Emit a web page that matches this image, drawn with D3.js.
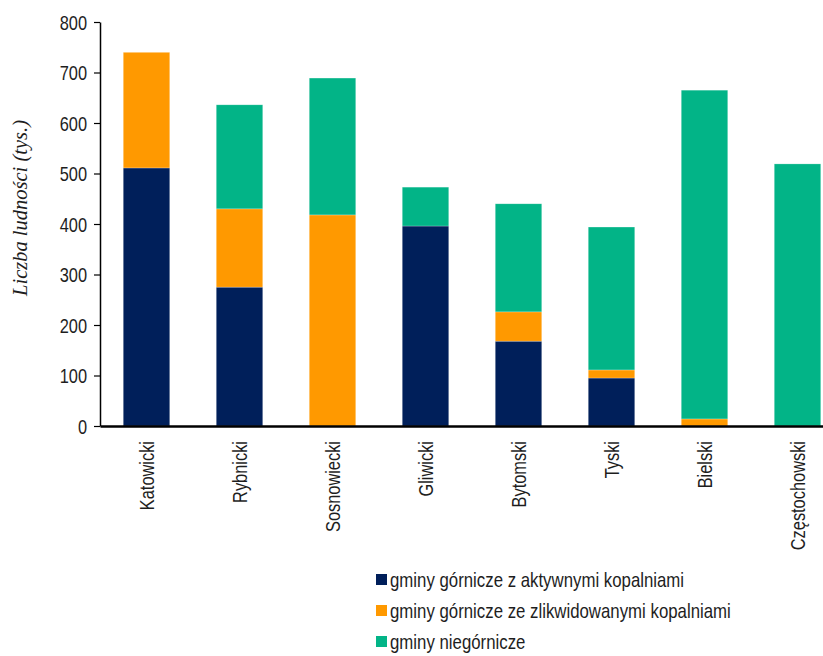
<!DOCTYPE html>
<html>
<head>
<meta charset="utf-8">
<script src="https://cdn.jsdelivr.net/npm/d3@7"></script>
<style>
  body { margin: 0; background: #fff; }
  text { fill: #1e1e1e; }
</style>
</head>
<body>
<div id="container"></div>
<script>

// subregions and population (thousands) by type of gmina
const regions = ['Katowicki', 'Rybnicki', 'Sosnowiecki', 'Gliwicki', 'Bytomski', 'Tyski', 'Bielski', 'Częstochowski'];
const active     = [511, 275,   0, 396, 168,  95,   0,   0];
const liquidated = [229, 155, 418,   0,  58,  16,  14,   0];
const nonMining  = [  0, 206, 271,  77, 214, 283, 651, 519];

const seriesKeys   = ['active', 'liquidated', 'nonMining'];
const seriesLabels = ['gminy górnicze z aktywnymi kopalniami', 'gminy górnicze ze zlikwidowanymi kopalniami', 'gminy niegórnicze'];
const seriesColors = ['#001f5a', '#ff9900', '#02b487'];
const yTicks = [0, 100, 200, 300, 400, 500, 600, 700, 800];

const width = 823, height = 656;
// no narrow font installed, so Liberation Sans gets squeezed horizontally
const sans = '"Liberation Sans", Arial, sans-serif';
const squeeze = 0.82;

const rows = regions.map((r, i) => ({ region: r, active: active[i], liquidated: liquidated[i], nonMining: nonMining[i] }));
const stacked = d3.stack().keys(seriesKeys)(rows);

const svg = d3.create('svg').attr('width', width).attr('height', height);

// band scale runs past the right edge like the original
const x = d3.scaleBand().domain(regions).range([100, 844]).paddingInner(0.5).paddingOuter(0.25);
const y = d3.scaleLinear().domain([0, 800]).range([426, 22]);

svg.append('g').selectAll('g').data(stacked).enter().append('g')
    .attr('fill', (d, i) => seriesColors[i])
  .selectAll('rect').data(d => d.filter(v => v[1] > v[0])).enter().append('rect')
    .attr('x', d => x(d.data.region))
    .attr('width', x.bandwidth())
    .attr('y', d => y(d[1]))
    .attr('height', d => y(d[0]) - y(d[1]))
    .attr('stroke', '#ffffff')
    .attr('stroke-opacity', 0.4)
    .attr('stroke-width', 0.6);

// y axis
const yAxis = svg.append('g').attr('transform', 'translate(100,0)')
    .call(d3.axisLeft(y).tickValues(yTicks).tickSize(6).tickSizeOuter(0));
yAxis.select('.domain').attr('stroke', '#000').attr('stroke-width', 1.5);
yAxis.selectAll('.tick line').attr('stroke', '#000').attr('stroke-width', 1.2);
yAxis.selectAll('.tick text')
    .style('font-family', sans).style('font-size', '20px').attr('fill', '#1e1e1e')
    .attr('x', null).attr('dy', '0.36em')
    .attr('transform', `translate(-13,0) scale(${squeeze},1)`);

// x axis
const xAxis = svg.append('g').attr('transform', 'translate(0,426)')
    .call(d3.axisBottom(x).tickSize(0).tickSizeOuter(0).tickPadding(0));
xAxis.select('.domain').attr('stroke', '#000').attr('stroke-width', 2.5);
xAxis.selectAll('.tick text')
    .style('font-family', sans).style('font-size', '20px').attr('fill', '#1e1e1e')
    .attr('text-anchor', 'end')
    .attr('transform', `rotate(-90) translate(-15,0) scale(${squeeze},1)`)
    .attr('x', 0).attr('y', 0).attr('dy', '0.36em');

// y title
svg.append('text')
    .attr('transform', 'translate(27,208) rotate(-90)')
    .attr('text-anchor', 'middle')
    .style('font-family', '"Liberation Serif", "Times New Roman", serif')
    .style('font-style', 'italic')
    .style('font-size', '20.5px')
    .text('Liczba ludności (tys.)');

// legend
const legend = svg.append('g').selectAll('g').data(seriesLabels).enter().append('g')
    .attr('transform', (d, i) => `translate(376,${574 + i * 31})`);
legend.append('rect').attr('width', 11).attr('height', 11).attr('fill', (d, i) => seriesColors[i]);
legend.append('text')
    .attr('transform', `translate(14,6) scale(${squeeze},1)`)
    .attr('dy', '0.36em')
    .style('font-family', sans).style('font-size', '20.5px')
    .text(d => d);

document.getElementById('container').append(svg.node());
</script>
</body>
</html>
